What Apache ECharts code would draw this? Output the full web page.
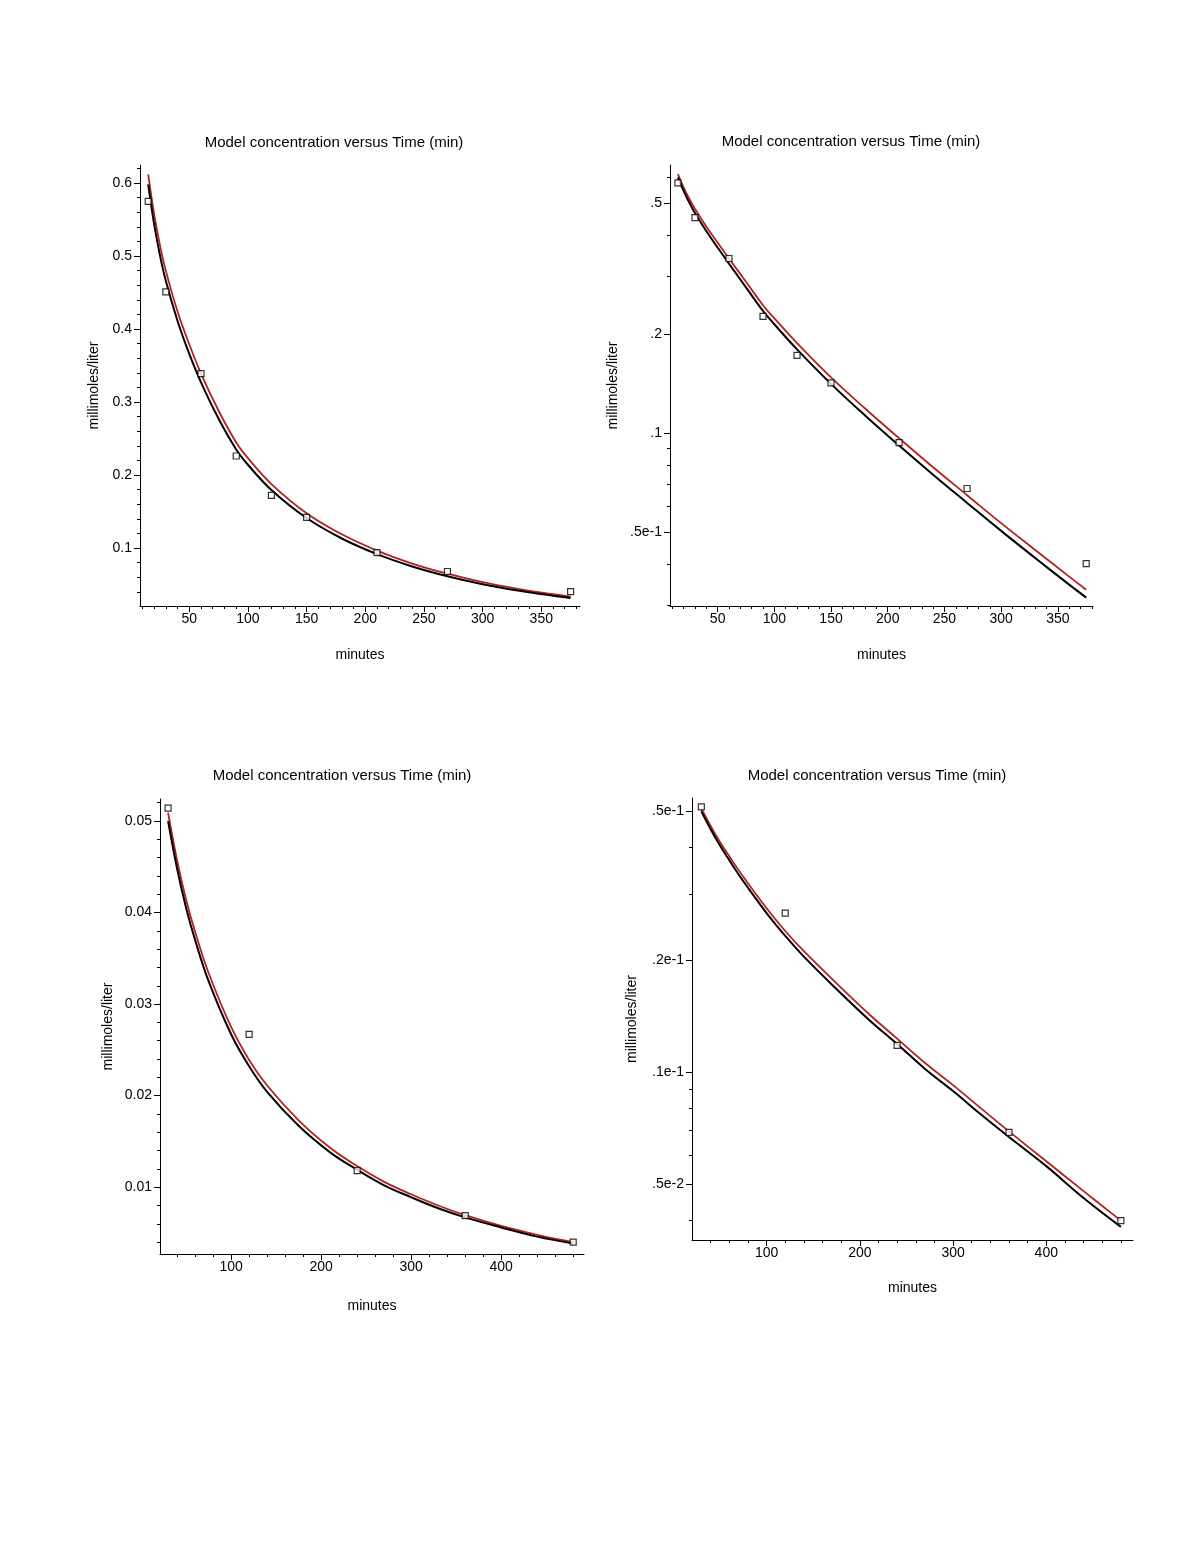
<!DOCTYPE html>
<html>
<head>
<meta charset="utf-8">
<title>Model concentration versus Time (min)</title>
<script src="https://cdn.jsdelivr.net/npm/echarts@6/dist/echarts.min.js"></script>
<style>
  html, body { margin: 0; padding: 0; background: #fff; }
  #chart { width: 1197px; height: 1549px; }
</style>
</head>
<body>
<div id="chart"></div>
<script>
// top row: first data set (linear and log plot of the same values)
const sampleTimeA = [15, 30, 60, 90, 120, 150, 210, 270, 375];
const sampleConcA = [0.575, 0.451, 0.339, 0.226, 0.172, 0.142, 0.0935, 0.0678, 0.0401];
const curveTimeA = [15, 20, 25, 30, 40, 50, 60, 75, 90, 100, 120, 150, 180, 210, 240, 270, 300, 330, 360, 375];
const blackFitA = [0.598, 0.544, 0.501, 0.466, 0.411, 0.366, 0.327, 0.277, 0.235, 0.214, 0.1795, 0.141, 0.113, 0.0916, 0.0747, 0.0613, 0.0504, 0.0417, 0.0346, 0.0316];
const redFitA = [0.612, 0.558, 0.515, 0.480, 0.424, 0.379, 0.339, 0.288, 0.2445, 0.223, 0.1876, 0.1476, 0.1187, 0.0964, 0.0787, 0.0647, 0.0532, 0.0441, 0.0366, 0.0334];

// bottom row: second data set
const sampleTimeB = [30, 120, 240, 360, 480];
const sampleConcB = [0.0514, 0.0267, 0.0118, 0.0069, 0.0040];
const curveTimeB = [30, 40, 50, 60, 75, 100, 120, 140, 175, 210, 240, 270, 300, 330, 360, 400, 440, 480];
const blackFitB = [0.0500, 0.0448, 0.0405, 0.0370, 0.0325, 0.0267, 0.0232, 0.0204, 0.0167, 0.0138, 0.0119, 0.0102, 0.0089, 0.0077, 0.0067, 0.0056, 0.0046, 0.00385];
const redFitB = [0.0509, 0.0457, 0.0414, 0.0379, 0.0334, 0.0275, 0.0239, 0.0211, 0.0173, 0.0143, 0.0123, 0.01058, 0.00923, 0.0080, 0.00694, 0.00577, 0.0048, 0.0040];

// tick labels
const xTicksA = [50, 100, 150, 200, 250, 300, 350];
const xTicksB = [100, 200, 300, 400];
const yTicksLin1 = [0.1, 0.2, 0.3, 0.4, 0.5, 0.6];
const yTicksLin3 = [0.01, 0.02, 0.03, 0.04, 0.05];
const yTicksLog2 = [0.05, 0.1, 0.2, 0.5];
const yLabelsLog2 = ['.5e-1', '.1', '.2', '.5'];
const yTicksLog4 = [0.005, 0.01, 0.02, 0.05];
const yLabelsLog4 = ['.5e-2', '.1e-1', '.2e-1', '.5e-1'];
const yMinorLog2 = [0.03, 0.04, 0.06, 0.07, 0.08, 0.09, 0.3, 0.4, 0.6];
const yMinorLog4 = [0.004, 0.006, 0.007, 0.008, 0.009, 0.03, 0.04];

const FONT = '"Liberation Sans", Arial, sans-serif';
const TITLE = 'Model concentration versus Time (min)';
const RED = '#b3221f';

function every(from, to, step) {
  const out = [];
  for (let v = from; v <= to + step / 1000; v += step) out.push(Math.round(v * 1e6) / 1e6);
  return out;
}

function pairs(xs, ys) {
  return xs.map((x, i) => [x, ys[i]]);
}

function labelFrom(ticks, labels) {
  return (v) => {
    const i = ticks.findIndex(t => Math.abs(v - t) / t < 1e-6);
    return i >= 0 ? labels[i] : '';
  };
}

const textStyle = { color: '#000', fontSize: 14, fontFamily: FONT };

function mainAxis(dim, grid, type, min, max, ticks, opts) {
  return Object.assign({
    type: type,
    gridIndex: grid,
    min: min,
    max: max,
    position: dim === 'x' ? 'bottom' : 'left',
    axisLine: { show: true, onZero: false, lineStyle: { color: '#000', width: 1 } },
    axisTick: { show: true, customValues: ticks, length: 6, lineStyle: { color: '#000', width: 1 } },
    axisLabel: Object.assign({ customValues: ticks, margin: dim === 'x' ? 6 : 8 }, textStyle),
    splitLine: { show: false },
    nameLocation: 'middle',
    nameTextStyle: textStyle
  }, opts);
}

function minorAxis(dim, grid, type, min, max, ticks) {
  return {
    type: type,
    gridIndex: grid,
    min: min,
    max: max,
    position: dim === 'x' ? 'bottom' : 'left',
    axisLine: { show: false, onZero: false },
    axisTick: { show: true, customValues: ticks, length: 3, lineStyle: { color: '#000', width: 1 } },
    axisLabel: { show: false },
    splitLine: { show: false }
  };
}

const grids = [
  { left: 140, top: 165, width: 440, height: 441 },
  { left: 670, top: 165, width: 423, height: 441 },
  { left: 160, top: 799, width: 424, height: 455 },
  { left: 692, top: 798, width: 441, height: 442 }
];

const xAxes = [
  mainAxis('x', 0, 'value', 8, 383, xTicksA, { name: 'minutes', nameGap: 42 }),
  minorAxis('x', 0, 'value', 8, 383, every(10, 380, 10)),
  mainAxis('x', 1, 'value', 8, 381, xTicksA, { name: 'minutes', nameGap: 42 }),
  minorAxis('x', 1, 'value', 8, 381, every(10, 380, 10)),
  mainAxis('x', 2, 'value', 21, 492, xTicksB, { name: 'minutes', nameGap: 45 }),
  minorAxis('x', 2, 'value', 21, 492, every(40, 480, 20)),
  mainAxis('x', 3, 'value', 20, 493, xTicksB, { name: 'minutes', nameGap: 41 }),
  minorAxis('x', 3, 'value', 20, 493, every(40, 480, 20))
];

const yAxes = [
  mainAxis('y', 0, 'value', 0.0205, 0.6247, yTicksLin1, { name: 'millimoles/liter', nameGap: 39 }),
  minorAxis('y', 0, 'value', 0.0205, 0.6247, every(0.02, 0.62, 0.02)),
  mainAxis('y', 1, 'log', 0.0298, 0.652, yTicksLog2, { name: 'millimoles/liter', nameGap: 50, logBase: 10 }),
  minorAxis('y', 1, 'log', 0.0298, 0.652, yMinorLog2),
  mainAxis('y', 2, 'value', 0.0027, 0.0524, yTicksLin3, { name: 'millimoles/liter', nameGap: 45 }),
  minorAxis('y', 2, 'value', 0.0027, 0.0524, every(0.004, 0.052, 0.002)),
  mainAxis('y', 3, 'log', 0.00355, 0.0543, yTicksLog4, { name: 'millimoles/liter', nameGap: 53, logBase: 10 }),
  minorAxis('y', 3, 'log', 0.00355, 0.0543, yMinorLog4)
];
yAxes[2].axisLabel.formatter = labelFrom(yTicksLog2, yLabelsLog2);
yAxes[6].axisLabel.formatter = labelFrom(yTicksLog4, yLabelsLog4);

function panelSeries(p, curveT, black, red, sampleT, sampleC) {
  const axes = { xAxisIndex: p * 2, yAxisIndex: p * 2 };
  return [
    Object.assign({
      type: 'line', data: pairs(curveT, red), showSymbol: false, smooth: 0.4,
      lineStyle: { color: RED, width: 1.8 }, z: 2
    }, axes),
    Object.assign({
      type: 'line', data: pairs(curveT, black), showSymbol: false, smooth: 0.4,
      lineStyle: { color: '#000', width: 2 }, z: 3
    }, axes),
    Object.assign({
      type: 'scatter', data: pairs(sampleT, sampleC), symbol: 'rect', symbolSize: 6,
      itemStyle: { color: '#fff', borderColor: '#000', borderWidth: 1.2 }, z: 4
    }, axes)
  ];
}

const titleCenters = [[334, 135], [851, 134], [342, 768], [877, 768]];

const chart = echarts.init(document.getElementById('chart'));
chart.setOption({
  backgroundColor: '#fff',
  animation: false,
  title: titleCenters.map(c => ({
    text: TITLE,
    left: c[0],
    top: c[1],
    padding: 0,
    textAlign: 'center',
    textVerticalAlign: 'top',
    textStyle: Object.assign({}, textStyle, { fontWeight: 'normal', fontSize: 15 })
  })),
  grid: grids,
  xAxis: xAxes,
  yAxis: yAxes,
  series: [].concat(
    panelSeries(0, curveTimeA, blackFitA, redFitA, sampleTimeA, sampleConcA),
    panelSeries(1, curveTimeA, blackFitA, redFitA, sampleTimeA, sampleConcA),
    panelSeries(2, curveTimeB, blackFitB, redFitB, sampleTimeB, sampleConcB),
    panelSeries(3, curveTimeB, blackFitB, redFitB, sampleTimeB, sampleConcB)
  )
});
</script>
</body>
</html>
